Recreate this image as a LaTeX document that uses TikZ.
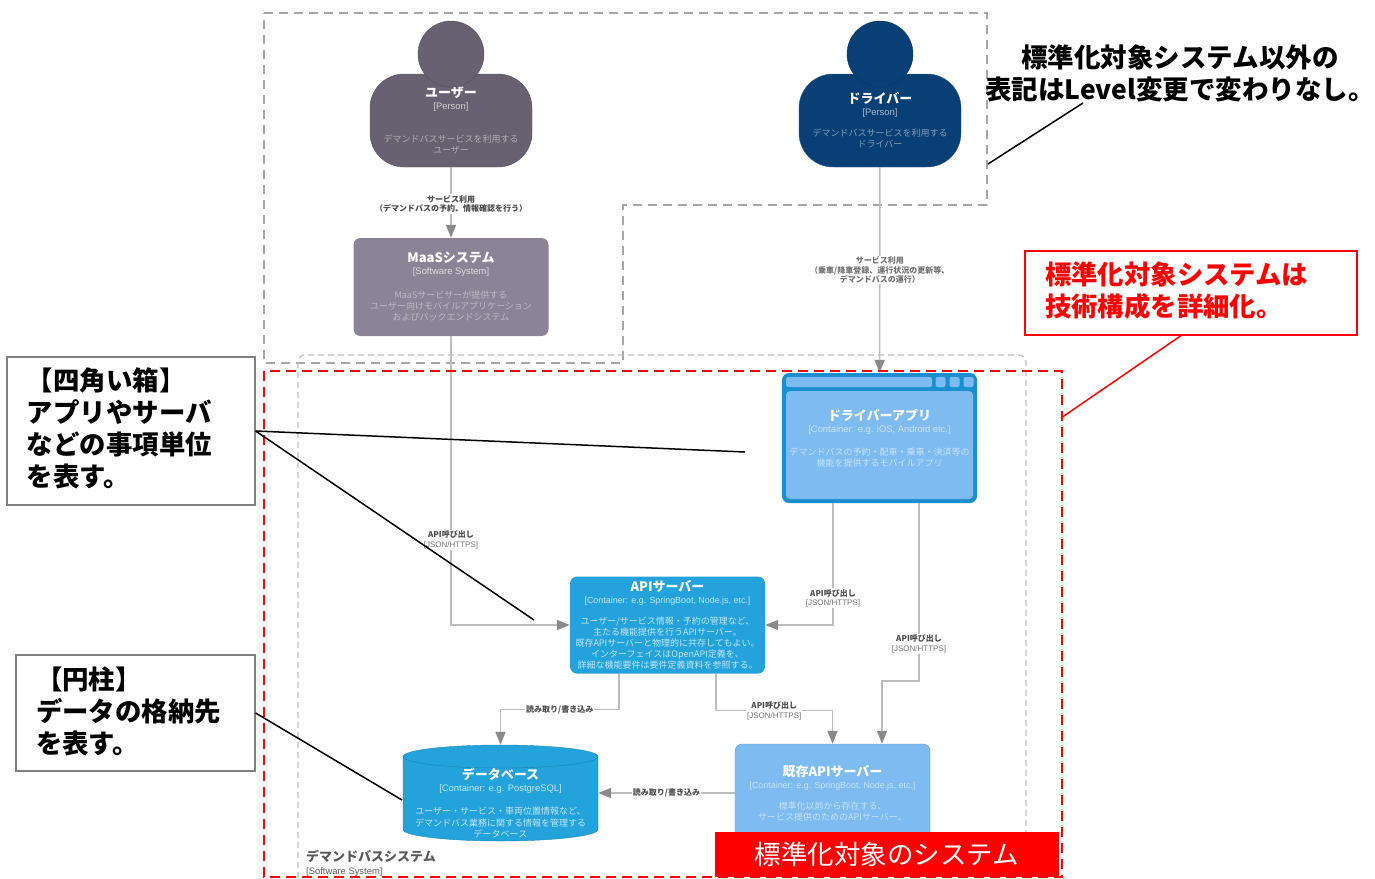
\documentclass[tikz,border=0pt]{standalone}
\usepackage{fontspec}
\usetikzlibrary{arrows.meta}
\setmainfont{Noto Sans CJK JP}
\newfontfamily\lsans{Liberation Sans}
\lineskiplimit=-50pt
\definecolor{usergray}{HTML}{686171}
\definecolor{usertext}{HTML}{B0ACB5}
\definecolor{drivblue}{HTML}{083F75}
\definecolor{drivtext}{HTML}{7F9DBB}
\definecolor{maasgray}{HTML}{8B8496}
\definecolor{maastext}{HTML}{BDB9C4}
\definecolor{appblue}{HTML}{1A8FD0}
\definecolor{applight}{HTML}{7DBBF0}
\definecolor{apptext}{HTML}{C8E2F9}
\definecolor{apiblue}{HTML}{23A2DB}
\definecolor{apitext}{HTML}{C2E5F6}
\definecolor{relgray}{HTML}{BDBDBD}
\definecolor{tipgray}{HTML}{8A8A8A}
\newcommand{\cname}[1]{{\bfseries\color{white}\fontsize{13}{13}\selectfont #1}}
\newcommand{\ctag}[1]{{\lsans\fontsize{9.4}{9.4}\selectfont #1}}
\newcommand{\stag}[1]{{\lsans\fontsize{8.9}{8.9}\selectfont #1}}
\newcommand{\rname}[1]{{\bfseries\color{black!70}#1}}
\newcommand{\rtag}[1]{{\lsans\color{black!55}#1}}
\tikzset{
  cbox/.style={rectangle,rounded corners=7pt,align=center,text=white,inner sep=0pt,minimum width=195pt,minimum height=98pt,font=\fontsize{9}{11}\selectfont},
  cbody/.style={cbox,rounded corners=34pt,minimum width=162pt,minimum height=93pt},
  chead/.style={circle,minimum size=66pt,inner sep=0pt},
  rel/.style={draw=relgray,line width=1.5pt,-{Triangle[width=10pt,length=13pt,color=tipgray]}},
  rlabel/.style={fill=white,align=center,inner sep=1pt,text=black!70,font=\fontsize{8}{9.5}\selectfont},
  note/.style={draw=black!50,line width=1.2pt,inner xsep=20pt,inner ysep=0pt,align=left,font=\bfseries\fontsize{26.4}{32}\selectfont},
  lead/.style={draw=black,line width=1.5pt},
  dbend/.style={x radius=97.5pt,y radius=11.5pt}
}
\begin{document}
\begin{tikzpicture}[x=1pt,y=-1pt]
  \useasboundingbox (0,0) rectangle (1375,878);
  \path [draw=black!35,line width=1.5pt,dash pattern=on 9pt off 6pt] (264,13) -- (987,13) -- (987,205) -- (623,205) -- (623,363) -- (264,363) -- cycle;
  \path [draw=black!25,line width=1.3pt,dash pattern=on 6pt off 4pt,rounded corners=7pt] (298,878) -- (298,355) -- (1026,355) -- (1026,878);
  \node[cbody,draw=usergray!85!black,fill=usergray,text=usertext] (user) at (451,120.5) {\cname{ユーザー}\\[1pt]\ctag{\color{usertext!60!white}[Person]}\\[22pt]デマンドバスサービスを利用する\\ユーザー};
  \node[chead,draw=usergray!80!black,fill=usergray] (userhead) at (451,54) {};
  \node[cbody,draw=drivblue!85!white,fill=drivblue,text=drivtext] (driver) at (880,120.5) {\cname{ドライバー}\\[1pt]\ctag{\color{drivtext!70!white}[Person]}\\[10pt]デマンドバスサービスを利用する\\ドライバー};
  \node[chead,draw=drivblue!85!black,fill=drivblue] (driverhead) at (880,54) {};
  \node[cbox,fill=maasgray,text=maastext] (maas) at (451,287) {\cname{MaaSシステム}\\[1pt]\ctag{\color{maastext!50!white}[Software System]}\\[13pt]MaaSサービサーが提供する\\ユーザー向けモバイルアプリケーション\\およびバックエンドシステム};
  \node[cbox,fill=appblue,minimum height=130pt] (app) at (879.5,438) {};
  \node[rectangle,rounded corners=4pt,fill=applight,minimum width=187pt,minimum height=108pt,inner sep=0pt] (appinner) at (879.5,445) {};
  \node[rectangle,rounded corners=2pt,fill=applight,minimum width=146pt,minimum height=10pt,inner sep=0pt] (appbar) at (859,382) {};
  \node[rectangle,rounded corners=2pt,fill=applight,minimum size=10pt,inner sep=0pt] (appbtna) at (940.5,382) {};
  \node[rectangle,rounded corners=2pt,fill=applight,minimum size=10pt,inner sep=0pt] (appbtnb) at (954.5,382) {};
  \node[rectangle,rounded corners=2pt,fill=applight,minimum size=10pt,inner sep=0pt] (appbtnc) at (968.5,382) {};
  \node[align=center,text=apptext,inner sep=0pt,font=\fontsize{9}{11.5}\selectfont] (apptxt) at (879.5,438) {\cname{ドライバーアプリ}\\[1pt]\ctag{[Container: e.g. iOS, Android etc.]}\\[11pt]デマンドバスの予約・配車・乗車・決済等の\\機能を提供するモバイルアプリ};
  \node[cbox,fill=apiblue,text=apitext,minimum height=97pt] (api) at (667.5,625) {\cname{APIサーバー}\\[1pt]\stag{[Container: e.g. SpringBoot, Node.js, etc.]}\\[10pt]ユーザー/サービス情報・予約の管理など、\\主たる機能提供を行うAPIサーバー。\\既存APIサーバーと物理的に共存してもよい。\\インターフェイスはOpenAPI定義を、\\詳細な機能要件は要件定義資料を参照する。};
  \node[cbox,draw=applight!80!black,fill=applight,text=apptext] (exist) at (832.5,793) {\cname{既存APIサーバー}\\[1pt]\stag{[Container: e.g. SpringBoot, Node.js, etc.]}\\[10pt]標準化以前から存在する、\\サービス提供のためのAPIサーバー。};
  \node[minimum width=195pt,minimum height=96pt,inner sep=0pt] (db) at (500.5,793) {};
  \path [draw=apiblue!85!black,fill=apiblue] (403,756.5) arc[start angle=180,end angle=0,dbend] -- (598,829.5) arc[start angle=0,end angle=-180,dbend] -- cycle;
  \path [draw=apiblue!80!black] (403,756.5) arc[start angle=180,end angle=360,dbend];
  \node[align=center,text=apitext,inner sep=0pt,font=\fontsize{9}{11.5}\selectfont] (dbtxt) at (500.5,803.5) {\cname{データベース}\\[0pt]\ctag{[Container: e.g. PostgreSQL]}\\[12pt]ユーザー・サービス・車両位置情報など、\\デマンドバス業務に関する情報を管理する\\データベース};
  \node[anchor=west,align=left,inner sep=0pt,text=black!65,font=\fontsize{9}{13}\selectfont] (systxt) at (306,863) {\textcolor{black!65}{\bfseries\fontsize{13}{13}\selectfont デマンドバスシステム}\\\ctag{[Software System]}};
  \draw[rel] (user) -- node[rlabel,pos=.52] (relusr) {\rname{サービス利用}\\\rname{（デマンドバスの予約、情報確認を行う）}} (maas);
  \draw[rel] (driver) -- node[rlabel,pos=.5,text=black!55,font=\bfseries\fontsize{8}{9.5}\selectfont] (reldrv) {サービス利用\\（乗車/降車登録、運行状況の更新等、\\デマンドバスの運行）} (app);
  \draw[rel] (maas.south) |- node[rlabel,pos=.353] (relmaas) {\rname{API呼び出し}\\\rtag{[JSON/HTTPS]}} (api.west);
  \draw[rel] ([xshift=-46.5pt]app.south) |- node[rlabel,pos=.39] (relappa) {\rname{API呼び出し}\\\rtag{[JSON/HTTPS]}} (api.east);
  \draw[rel] ([xshift=39.5pt]app.south) -- node[rlabel,pos=.79] (relappb) {\rname{API呼び出し}\\\rtag{[JSON/HTTPS]}} ++(0,178) -| ([xshift=49.5pt]exist.north);
  \draw[rel] ([xshift=-48.5pt]api.south) -- ++(0,36) -| node[rlabel,pos=.25] (reldb) {\rname{読み取り/書き込み}} (db.north);
  \draw[rel] ([xshift=48.5pt]api.south) -- ++(0,37) -| node[rlabel,pos=.25] (relex) {\rname{API呼び出し}\\\rtag{[JSON/HTTPS]}} (exist.north);
  \draw[rel] (exist) -- node[rlabel] (relexdb) {\rname{読み取り/書き込み}} (db);
  \path [draw=red,line width=2pt,dash pattern=on 10pt off 6pt] (264,371) rectangle (1062,877);
  \node[align=center,inner sep=0pt,font=\bfseries\fontsize{26.5}{32}\selectfont] (othernote) at (1180,73) {標準化対象システム以外の\\表記はLevel変更で変わりなし。};
  \coordinate (otherfrom) at (1083,103);
  \coordinate (otherto) at (988,164);
  \draw[lead] (otherfrom) -- (otherto);
  \node[note,draw=red,text=red,minimum width=332pt,minimum height=84pt,text width=292pt] (rednote) at (1191,293) {標準化対象システムは\\技術構成を詳細化。\\[-25pt]\mbox{}};
  \coordinate (redto) at (1061,418);
  \draw[draw=red,line width=1.5pt] ([xshift=-10pt]rednote.south) -- (redto);
  \node[note,minimum height=148pt,text width=208pt] (boxnote) at (131,431) {【四角い箱】\\アプリやサーバ\\などの事項単位\\を表す。\\[-24pt]\mbox{}};
  \coordinate (boxtoa) at (745,452);
  \coordinate (boxtob) at (534,620);
  \draw[lead] (boxnote.east) -- (boxtoa);
  \draw[lead] (boxnote.east) -- (boxtob);
  \node[note,minimum height=116pt,text width=199pt] (cylnote) at (135.5,713) {【円柱】\\データの格納先\\を表す。\\[-26pt]\mbox{}};
  \coordinate (cylto) at (402,800);
  \draw[lead] (cylnote.east) -- (cylto);
  \node[fill=red,text=white,minimum width=344pt,minimum height=45pt,inner sep=0pt,font=\fontsize{26.5}{32}\selectfont] (scopetag) at (887,854.5) {標準化対象のシステム};
\end{tikzpicture}
\end{document}
